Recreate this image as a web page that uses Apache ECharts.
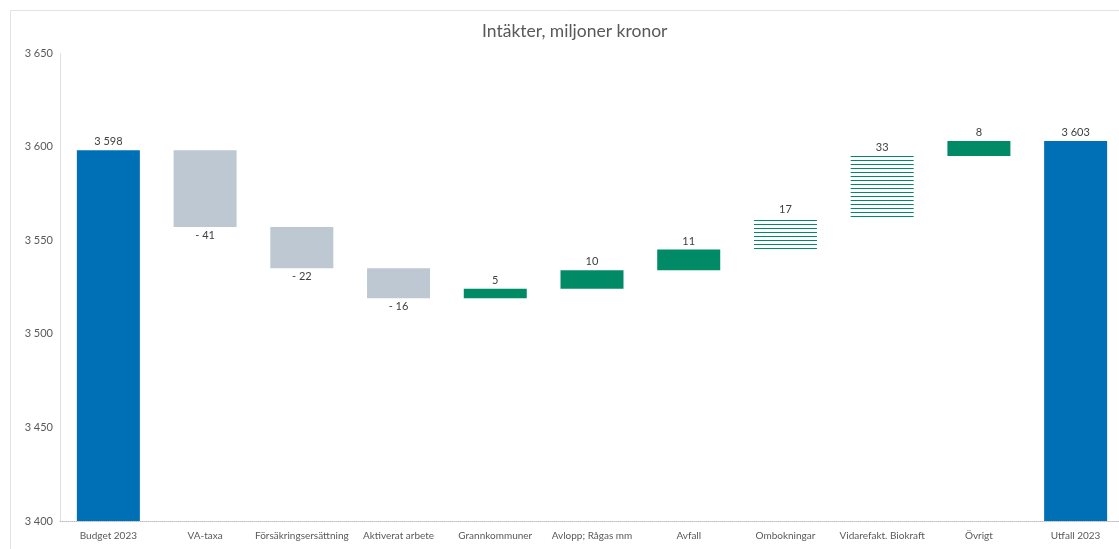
<!DOCTYPE html>
<html>
<head>
<meta charset="utf-8">
<script src="https://cdn.jsdelivr.net/npm/echarts@6/dist/echarts.min.js"></script>
<style>
  html, body { margin: 0; padding: 0; background: #fff; }
  #chart { width: 1119px; height: 549px; }
</style>
</head>
<body>
<div id="chart"></div>
<script>
// data
const categories = ['Budget 2023', 'VA-taxa', 'Försäkringsersättning', 'Aktiverat arbete', 'Grannkommuner',
  'Avlopp; Rågas mm', 'Avfall', 'Ombokningar', 'Vidarefakt. Biokraft', 'Övrigt', 'Utfall 2023']
const values = [3598, -41, -22, -16, 5, 10, 11, 17, 33, 8, 3603]
const kinds = ['total', 'neg', 'neg', 'neg', 'pos', 'pos', 'pos', 'hatch', 'hatch', 'pos', 'total']
const yTicks = [3400, 3450, 3500, 3550, 3600, 3650]

const colors = { total: '#0070b6', neg: '#bec8d2', pos: '#008a66' }

// striped fill for the hatched bars
const stripe = document.createElement('canvas')
stripe.width = 4
stripe.height = 4
const sctx = stripe.getContext('2d')
sctx.fillStyle = '#ffffff'
sctx.fillRect(0, 0, 4, 4)
sctx.fillStyle = '#008a66'
sctx.fillRect(0, 0, 4, 1)

const fmt = v => String(Math.abs(v)).replace(/\B(?=(\d{3})+(?!\d))/g, ' ')

// running totals for the waterfall
const base = []
const size = []
let level = 0
values.forEach((v, i) => {
  if (kinds[i] === 'total') {
    base.push(0)
    size.push(v)
    level = v
  } else if (v < 0) {
    level += v
    base.push(level)
    size.push(-v)
  } else {
    base.push(level)
    size.push(v)
    level += v
  }
})

const visible = size.map((s, i) => {
  const k = kinds[i]
  const v = values[i]
  return {
    value: s,
    itemStyle: {
      color: k === 'hatch' ? { image: stripe, repeat: 'repeat' } : colors[k]
    },
    label: {
      show: true,
      position: v < 0 ? 'bottom' : 'top',
      distance: 3,
      formatter: v < 0 ? '- ' + fmt(v) : fmt(v)
    }
  }
})

const chart = echarts.init(document.getElementById('chart'))
chart.setOption({
  animation: false,
  textStyle: { fontFamily: 'Lato, "Open Sans", sans-serif' },
  title: {
    text: 'Intäkter, miljoner kronor',
    left: 477,
    top: 17,
    textStyle: { fontSize: 17.5, fontWeight: 'normal', color: '#595959', fontFamily: 'Lato, "Open Sans", sans-serif' }
  },
  graphic: [{
    type: 'rect',
    shape: { x: 10.5, y: 10.5, width: 1120, height: 550 },
    style: { fill: 'none', stroke: '#e3e3e3', lineWidth: 1 },
    silent: true
  }],
  grid: { left: 60, right: -5, top: 53, bottom: 28, outerBoundsMode: 'none' },
  xAxis: {
    type: 'category',
    data: categories,
    axisLine: { lineStyle: { color: '#bfbfbf', type: 'dotted' } },
    axisTick: { show: false },
    axisLabel: { color: '#595959', fontSize: 10, margin: 10, interval: 0 }
  },
  yAxis: {
    type: 'value',
    min: yTicks[0],
    max: yTicks[yTicks.length - 1],
    interval: yTicks[1] - yTicks[0],
    axisLine: { show: true, lineStyle: { color: '#d9d9d9', type: 'dotted' } },
    axisTick: { show: false },
    splitLine: { show: false },
    axisLabel: { color: '#595959', fontSize: 11, margin: 7, formatter: v => fmt(v) }
  },
  series: [
    {
      type: 'bar',
      stack: 'wf',
      barWidth: 63,
      silent: true,
      itemStyle: { color: 'transparent' },
      data: base
    },
    {
      type: 'bar',
      stack: 'wf',
      barWidth: 63,
      label: { color: '#404040', fontSize: 11 },
      data: visible
    }
  ]
})
</script>
</body>
</html>
